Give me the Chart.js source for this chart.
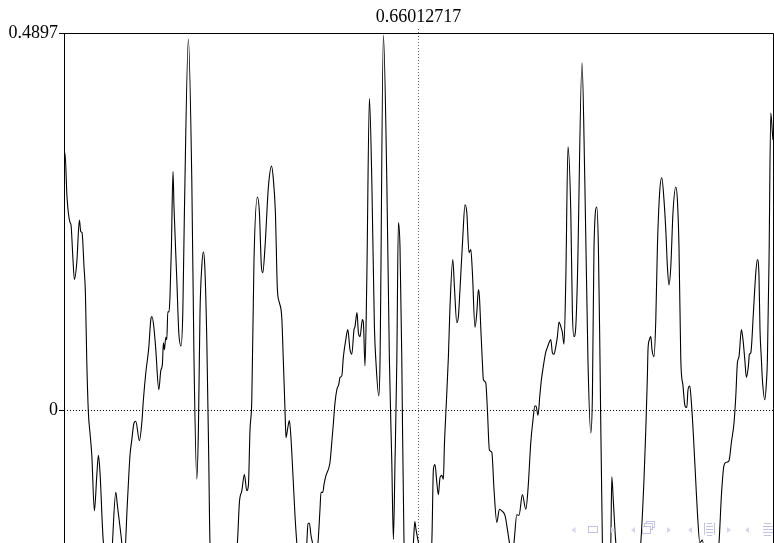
<!DOCTYPE html>
<html>
<head>
<meta charset="utf-8">
<title>Waveform</title>
<script src="https://cdn.jsdelivr.net/npm/chart.js@4.4.0/dist/chart.umd.min.js"></script>
<style>
  html, body { margin: 0; padding: 0; background: #fff; }
  .page { position: relative; width: 774px; height: 543px; overflow: hidden; }
  #wave { position: absolute; left: 0; top: 0; }
  .nav { position: absolute; left: 0; top: 0; }
</style>
</head>
<body>
<div class="page">
  <canvas id="wave" width="774" height="800"></canvas>
  <!-- beamer navigation symbols -->
  <svg class="nav" width="774" height="543">
    <g fill="#d6d6f0" stroke="none">
      <polygon points="575.5,527 571.5,530 575.5,533"/>
      <polygon points="611,527 615,530 611,533"/>
      <polygon points="635,527 631,530 635,533"/>
      <polygon points="667,527 671,530 667,533"/>
      <polygon points="692,527 688,530 692,533"/>
      <polygon points="727,527 731,530 727,533"/>
      <polygon points="749,527 745,530 749,533"/>
    </g>
    <g fill="#fff" stroke="#c2c2e8" stroke-width="1">
      <rect x="588.5" y="526.5" width="9" height="6"/>
      <rect x="646.5" y="521.5" width="8" height="6"/>
      <rect x="644.5" y="523.5" width="8" height="6"/>
      <rect x="642.5" y="526.5" width="8" height="7"/>
      <path d="M704.5 522.5 L704.5 534.5 M707 523.5 H712 M706 526.5 H713 M706 529.5 H713 M706 532.5 H713 M707 535.5 H712 M714.5 522.5 L714.5 534.5" fill="none"/>
      <path d="M764 523.5 H771 M763 526.5 H773 M763 529.5 H773 M763 532.5 H773 M764 535.5 H771" fill="none"/>
    </g>
  </svg>
</div>
<script>
// time offsets (ms) from the start of the visible window, and sample amplitudes
var timeMs = [
  0.00,0.10,0.20,0.35,0.40,0.49,0.57,0.69,0.82,0.89,
  0.95,1.05,1.12,1.19,1.27,1.35,1.44,1.57,1.69,1.77,
  1.85,2.02,2.38,2.64,2.72,2.94,3.05,3.22,3.35,3.44,
  3.55,3.64,3.82,3.94,4.02,4.14,4.29,4.39,4.45,4.54,
  4.64,4.79,4.89,4.97,5.02,5.07,5.14,5.19,5.24,5.30,
  5.35,5.42,5.50,5.55,5.69,5.79,5.90,5.99,6.07,6.27,
  6.44,6.55,6.69,6.77,6.85,6.94,7.02,7.09,7.19,7.29,
  7.35,7.95,8.72,8.82,8.94,9.07,9.19,9.27,9.35,9.44,
  9.55,9.72,9.82,9.92,9.99,10.10,10.27,10.43,10.52,10.62,
  10.72,10.82,10.94,11.02,11.10,11.15,11.24,11.32,11.39,11.49,
  11.60,11.69,11.90,12.19,12.25,12.32,12.40,12.47,12.60,12.75,
  12.85,12.90,12.99,13.05,13.15,13.27,13.35,13.44,13.52,13.60,
  13.69,13.79,13.85,13.94,14.02,14.14,14.24,14.35,14.44,14.55,
  14.60,14.70,14.77,14.85,14.97,15.02,15.10,15.19,15.32,15.44,
  15.57,15.65,15.79,15.85,16.02,16.19,16.32,16.44,16.52,16.60,
  16.69,16.77,16.85,16.94,17.05,17.28,17.52,17.59,17.65,17.77,
  18.10,18.44,18.52,18.60,18.69,18.77,18.85,18.94,19.02,19.07,
  19.15,19.27,19.35,19.49,19.57,19.69,19.77,19.85,19.99,20.10,
  20.19,20.30,20.39,20.47,20.60,20.69,20.77,20.82,20.90,20.97,
  21.02,21.14,21.22,21.32,21.44,21.55,21.69,21.82,21.94,22.10,
  22.22,22.32,22.45,22.55,22.69,22.80,22.97,23.14,23.25,23.39,
  23.50,23.59,23.65,23.75,23.84,23.92,24.02,24.14,24.22,24.30,
  24.39,24.47,24.55,24.64,24.72,24.80,24.89,24.97,25.05,25.14,
  25.25,25.39,25.47,25.55,25.64,25.72,25.95,26.09,26.25,26.39,
  26.47,26.55,26.69,26.77,26.85,26.97,27.15,27.39,27.44,27.52,
  27.64,28.25,28.89,29.05,29.14,29.22,29.25,29.32,29.39,29.45,
  29.55,29.64,29.72,29.84,29.94,30.05,30.14,30.22,30.30,30.39,
  30.50,30.64,30.72,30.80,30.89,31.00,31.10,31.19,31.25,31.34,
  31.42,31.52,31.64,31.72,31.84,31.97,32.10,32.45,32.80,32.92,
  33.05,33.17,33.30,33.42,33.55,33.64,33.72,33.80,33.92,34.00,
  34.09,34.17,34.27,34.32,34.39,34.52,34.64,34.72,34.80,34.85,
  34.92,34.97,35.09,35.17,35.22,35.30,35.39,35.47,35.50
];

var amplitude = [
  0.319,0.334,0.277,0.244,0.241,0.200,0.170,0.192,0.247,0.232,
  0.231,0.187,0.153,0.063,-0.003,-0.029,-0.058,-0.130,-0.084,-0.058,
  -0.080,-0.171,-0.200,-0.106,-0.123,-0.171,-0.200,-0.119,-0.058,-0.038,
  -0.016,-0.014,-0.039,-0.016,0.014,0.049,0.082,0.118,0.122,0.109,
  0.079,0.027,0.052,0.060,0.088,0.079,0.095,0.092,0.128,0.128,
  0.148,0.212,0.310,0.264,0.170,0.101,0.084,0.127,0.257,0.482,
  0.299,0.066,-0.089,-0.025,0.127,0.187,0.206,0.187,0.092,-0.067,
  -0.171,-0.258,-0.171,-0.119,-0.104,-0.083,-0.104,-0.097,-0.025,0.014,
  0.196,0.277,0.257,0.187,0.179,0.212,0.290,0.317,0.299,0.257,
  0.157,0.140,0.120,0.062,0.001,-0.035,-0.022,-0.013,-0.032,-0.080,
  -0.136,-0.171,-0.219,-0.171,-0.146,-0.146,-0.162,-0.171,-0.193,-0.171,
  -0.128,-0.106,-0.106,-0.096,-0.084,-0.076,-0.067,-0.041,-0.016,0.010,
  0.027,0.034,0.043,0.045,0.070,0.092,0.105,0.079,0.073,0.105,
  0.109,0.127,0.101,0.096,0.118,0.114,0.058,0.170,0.405,0.299,
  0.109,0.062,0.019,0.062,0.487,0.299,0.066,-0.067,-0.167,-0.067,
  0.062,0.244,0.212,0.066,-0.171,-0.219,-0.171,-0.144,-0.154,-0.171,
  -0.225,-0.171,-0.076,-0.070,-0.093,-0.109,-0.087,-0.084,-0.089,-0.045,
  0.001,0.070,0.135,0.196,0.161,0.114,0.122,0.157,0.225,0.267,
  0.257,0.205,0.209,0.179,0.108,0.127,0.157,0.148,0.101,0.062,
  0.040,0.036,0.001,-0.051,-0.054,-0.102,-0.145,-0.128,-0.130,-0.136,
  -0.154,-0.171,-0.187,-0.171,-0.135,-0.136,-0.109,-0.128,-0.102,-0.041,
  -0.012,0.006,0.006,-0.006,0.019,0.040,0.058,0.076,0.082,0.088,
  0.092,0.075,0.073,0.083,0.096,0.115,0.109,0.101,0.086,0.170,
  0.342,0.257,0.127,0.096,0.109,0.170,0.451,0.299,0.063,-0.029,
  0.019,0.212,0.264,0.212,0.066,-0.171,-0.232,-0.171,-0.086,-0.119,
  -0.171,-0.258,-0.171,-0.089,-0.025,0.045,0.079,0.092,0.096,0.079,
  0.070,0.118,0.212,0.286,0.302,0.273,0.234,0.187,0.163,0.187,
  0.257,0.290,0.273,0.212,0.066,0.032,0.006,0.004,0.027,0.032,
  0.010,-0.032,-0.093,-0.132,-0.171,-0.168,-0.193,-0.212,-0.171,-0.110,
  -0.071,-0.067,-0.065,-0.041,-0.016,0.019,0.062,0.070,0.105,0.092,
  0.066,0.043,0.058,0.073,0.075,0.127,0.179,0.196,0.174,0.105,
  0.066,0.040,0.014,0.036,0.066,0.192,0.386,0.360,0.351
];

var viewStart = 0.642352;     // s
var viewLength = 0.0355;      // s
var cursorTime = 0.66012717;  // s
var yTicks = [0, 0.4897];
var yMax = 0.4897;

var points = timeMs.map(function (t, i) {
  return { x: viewStart + t / 1000, y: amplitude[i] };
});

var serif = { family: "'Liberation Serif', 'DejaVu Serif', serif", size: 18 };

// box round the plot area
var frame = {
  id: 'frame',
  afterDatasetsDraw: function (chart) {
    var a = chart.chartArea, c = chart.ctx;
    c.save();
    c.strokeStyle = '#000';
    c.lineWidth = 1;
    c.beginPath();
    c.moveTo(a.left + 0.5, a.bottom);
    c.lineTo(a.left + 0.5, a.top + 0.5);
    c.lineTo(a.right + 0.5, a.top + 0.5);
    c.lineTo(a.right + 0.5, a.bottom);
    c.stroke();
    c.restore();
  }
};

new Chart(document.getElementById('wave').getContext('2d'), {
  type: 'line',
  data: {
    datasets: [{
      data: points,
      borderColor: '#000',
      borderWidth: 1.1,
      pointRadius: 0,
      cubicInterpolationMode: 'monotone',
      fill: false
    }]
  },
  options: {
    responsive: false,
    animation: false,
    parsing: false,
    layout: { padding: { left: 0, top: 0, right: 1, bottom: 11 } },
    plugins: { legend: { display: false }, tooltip: { enabled: false } },
    scales: {
      x: {
        type: 'linear',
        position: 'top',
        min: viewStart + 0.00005,
        max: viewStart + viewLength,
        afterBuildTicks: function (s) { s.ticks = [{ value: cursorTime }]; },
        afterFit: function (s) { s.height = 33; },
        ticks: {
          font: serif,
          color: '#000',
          padding: 1,
          maxRotation: 0,
          autoSkip: false,
          callback: function (v) { return v.toFixed(8); }
        },
        grid: {
          color: '#666',
          lineWidth: 1,
          tickLength: 4,
          tickColor: '#666',
          tickBorderDash: [1, 2]
        },
        border: { display: false, dash: [1, 2] }
      },
      y: {
        type: 'linear',
        position: 'left',
        min: -yMax,
        max: yMax,
        afterBuildTicks: function (s) {
          s.ticks = yTicks.map(function (v) { return { value: v }; });
        },
        afterFit: function (s) { s.width = 64; },
        ticks: {
          font: serif,
          color: '#000',
          padding: 1,
          callback: function (v) { return v === 0 ? '0' : v.toFixed(4); }
        },
        grid: {
          color: '#000',
          lineWidth: 1,
          tickLength: 5,
          tickColor: '#000'
        },
        border: { display: false, dash: [1, 2] }
      }
    }
  },
  plugins: [frame]
});
</script>
</body>
</html>
